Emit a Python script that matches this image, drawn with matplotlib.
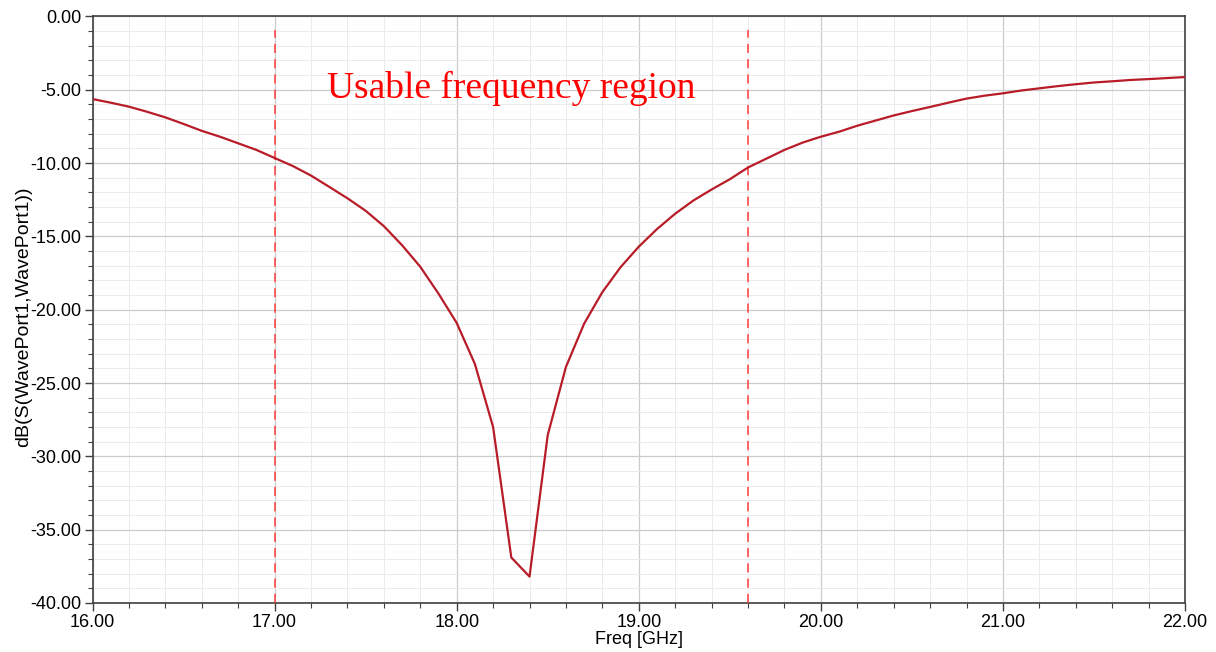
import numpy as np
import matplotlib
matplotlib.use("Agg")
import matplotlib.pyplot as plt
from matplotlib.ticker import MultipleLocator, FormatStrFormatter

freq_ghz = [16.0, 16.1, 16.2, 16.3, 16.4, 16.5, 16.6, 16.7, 16.8, 16.9,
            17.0, 17.1, 17.2, 17.3, 17.4, 17.5, 17.6, 17.7, 17.8, 17.9,
            18.0, 18.1, 18.2, 18.3, 18.4, 18.5, 18.6, 18.7, 18.8, 18.9,
            19.0, 19.1, 19.2, 19.3, 19.4, 19.5, 19.6, 19.7, 19.8, 19.9,
            20.0, 20.1, 20.2, 20.3, 20.4, 20.5, 20.6, 20.7, 20.8, 20.9,
            21.0, 21.1, 21.2, 21.3, 21.4, 21.5, 21.6, 21.7, 21.8, 21.9, 22.0]
s11_db = [-5.63, -5.88, -6.15, -6.50, -6.88, -7.33, -7.80, -8.20, -8.65, -9.10,
          -9.65, -10.20, -10.85, -11.62, -12.40, -13.25, -14.30, -15.60, -17.07, -18.90,
          -20.90, -23.70, -28.00, -36.90, -38.20, -28.55, -23.90, -20.95, -18.80, -17.10,
          -15.70, -14.50, -13.45, -12.55, -11.80, -11.10, -10.30, -9.70, -9.10, -8.60,
          -8.20, -7.86, -7.45, -7.10, -6.75, -6.45, -6.17, -5.88, -5.60, -5.40,
          -5.24, -5.05, -4.90, -4.75, -4.62, -4.50, -4.42, -4.33, -4.27, -4.20, -4.13]
band_edges = [17.0, 19.6]
annotation = "Usable frequency region"
x_label = "Freq [GHz]"
y_label = "dB(S(WavePort1,WavePort1))"

plt.rcParams['font.family'] = ['Liberation Sans', 'DejaVu Sans']

fig = plt.figure(figsize=(12.16, 6.52), dpi=100)
ax = fig.add_axes([0.0761, 0.0752, 0.8984, 0.8995])

ax.set_xlim(16, 22)
ax.set_ylim(-40, 0)
ax.xaxis.set_major_locator(MultipleLocator(1))
ax.xaxis.set_minor_locator(MultipleLocator(0.2))
ax.yaxis.set_major_locator(MultipleLocator(5))
ax.yaxis.set_minor_locator(MultipleLocator(1))
ax.xaxis.set_major_formatter(FormatStrFormatter('%.2f'))
ax.yaxis.set_major_formatter(FormatStrFormatter('%.2f'))

ax.grid(which='major', color='#cccccc', linewidth=0.9)
ax.grid(which='minor', color='#ebebeb', linewidth=0.7)
ax.set_axisbelow(True)

ax.tick_params(which='major', direction='out', length=6, width=1, color='#404040',
               labelsize=13, pad=2, top=False, right=False)
ax.tick_params(which='minor', direction='out', length=3.5, width=0.8, color='#404040',
               top=False, right=False)
for sp in ax.spines.values():
    sp.set_color('#404040')
    sp.set_linewidth(1.2)

for xe in band_edges:
    ax.plot([xe, xe], [-40, -0.9], color='#ff3b3b', linewidth=1.1,
            dashes=(6, 4), zorder=3)

ax.plot(freq_ghz, s11_db, color='#b81c28', linewidth=1.6, zorder=4)

ax.text(17.29, -5.58, annotation, color='#ff0000', fontsize=27,
        family=['Liberation Serif', 'DejaVu Serif'], ha='left', va='baseline', zorder=5)

ax.set_xlabel(x_label, fontsize=13, labelpad=0)
ax.set_ylabel(y_label, fontsize=14, labelpad=1)
ax.yaxis.set_label_coords(-0.0555, 0.488)

fig.savefig('out.png', dpi=100)
